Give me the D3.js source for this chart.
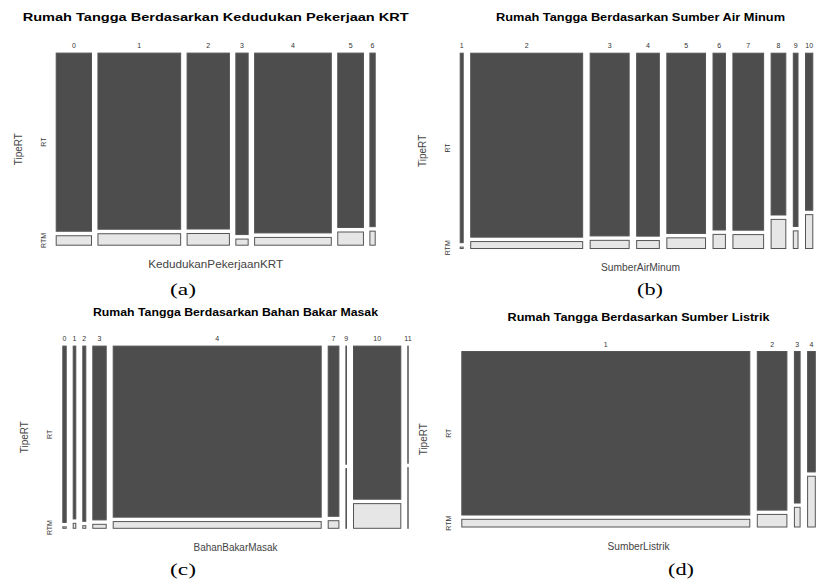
<!DOCTYPE html>
<html>
<head>
<meta charset="utf-8">
<script src="https://cdn.jsdelivr.net/npm/d3@7"></script>
<style>
	body { margin: 0; background: #fff; }
	svg { display: block; }
</style>
</head>
<body>
<div id="chart"></div>
<script>
// jumlah rumah tangga per kategori (RT = bukan miskin, RTM = miskin)
const tipeRT = ["RT", "RTM"];

const kerjaKategori = ["0", "1", "2", "3", "4", "5", "6"];
const kerjaRT  = [343, 782, 404, 128, 741, 247, 58];
const kerjaRTM = [20, 55, 29, 5, 36, 20, 5];

const airKategori = ["1", "2", "3", "4", "5", "6", "7", "8", "9", "10", "11"];
const airRT  = [79, 2167, 762, 452, 746, 247, 585, 265, 103, 136, 24];
const airRTM = [1, 93, 38, 22, 48, 21, 49, 49, 11, 30, 6];

const bahanKategori = ["0", "1", "2", "3", "4", "7", "9", "10", "11"];
const bahanRT  = [217, 174, 196, 700, 10001, 557, 53, 2070, 46];
const bahanRTM = [3, 6, 4, 20, 449, 28, 27, 345, 24];

const listrikKategori = ["1", "2", "3", "4"];
const listrikRT  = [2745, 282, 59, 61];
const listrikRTM = [145, 24, 8, 26];

let Mosaic = {
	constant: {
		width: 817,
		height: 583,
		colorRT: "#4D4D4D",
		colorRTM: "#E6E6E6",
		colorBorder: "#555",
		colorLabel: "#333",
		colorAxis: "#444",
		font: "'Liberation Sans', Arial, sans-serif",
		fontSerif: "'Liberation Serif', 'Times New Roman', serif"
	},
	panels: [
		{
			judul: "Rumah Tangga Berdasarkan Kedudukan Pekerjaan KRT", xLabel: "KedudukanPekerjaanKRT", caption: "(a)",
			kategori: kerjaKategori, rt: kerjaRT, rtm: kerjaRTM,
			box: {x0: 55.7, x1: 375.7, y0: 52.6, y1: 245.7}, gapX: 5.45, gapY: 3.5,
			titleY: 20.5, titleW: 386, xLabelW: 135, capX: 183, capY: 295
		},
		{
			judul: "Rumah Tangga Berdasarkan Sumber Air Minum", xLabel: "SumberAirMinum", caption: "(b)",
			kategori: airKategori, rt: airRT, rtm: airRTM,
			box: {x0: 459.7, x1: 821.3, y0: 52.7, y1: 249}, gapX: 6.5, gapY: 3.4,
			titleY: 21, titleW: 289, xLabelW: 79, capX: 650, capY: 295
		},
		{
			judul: "Rumah Tangga Berdasarkan Bahan Bakar Masak", xLabel: "BahanBakarMasak", caption: "(c)",
			kategori: bahanKategori, rt: bahanRT, rtm: bahanRTM,
			box: {x0: 62.3, x1: 408.7, y0: 345.6, y1: 528.8}, gapX: 6, gapY: 3.4,
			titleY: 316.3, titleW: 285, xLabelW: 84, capX: 183, capY: 575
		},
		{
			judul: "Rumah Tangga Berdasarkan Sumber Listrik", xLabel: "SumberListrik", caption: "(d)",
			kategori: listrikKategori, rt: listrikRT, rtm: listrikRTM,
			box: {x0: 461.3, x1: 815.8, y0: 351, y1: 527.5}, gapX: 6.5, gapY: 3.3,
			titleY: 321.3, titleW: 262, xLabelW: 62, capX: 681, capY: 575
		}
	],
	svg: null,
	init: (strSelector) => {
		let c = Mosaic.constant;
		Mosaic.svg = d3.select(strSelector)
			.append("svg")
			.attr("width", c.width)
			.attr("height", c.height)
		;
		Mosaic.svg.append("rect")
			.attr("width", c.width)
			.attr("height", c.height)
			.attr("fill", "#fff")
		;
		Mosaic.panels.forEach((p) => Mosaic.draw(p));
	},
	draw: (p) => {
		let c = Mosaic.constant;
		let b = p.box;
		let n = p.kategori.length;
		let g = Mosaic.svg.append("g");

		let cells = p.kategori.map((k, i) => ({
			kategori: k,
			rt: p.rt[i],
			rtm: p.rtm[i],
			jumlah: p.rt[i] + p.rtm[i]
		}));
		let total = d3.sum(cells, (d) => d.jumlah);

		/* lebar kolom sebanding jumlah, tinggi sel sebanding proporsi */
		let x = d3.scaleLinear()
			.domain([0, total])
			.range([0, b.x1 - b.x0 - p.gapX * (n - 1)])
		;
		let y = d3.scaleLinear()
			.domain([0, 1])
			.range([b.y0, b.y1 - p.gapY])
		;
		let cum = 0;
		cells.forEach((d, i) => {
			d.x = b.x0 + x(cum) + i * p.gapX;
			d.w = x(d.jumlah);
			d.share = d.rt / d.jumlah;
			cum += d.jumlah;
		});

		let col = g.selectAll("g.kolom")
			.data(cells)
			.enter().append("g")
			.attr("class", "kolom")
		;
		col.append("rect")
			.attr("x", (d) => d.x + 0.5)
			.attr("y", y(0) + 0.5)
			.attr("width", (d) => Math.max(d.w - 1, 0.01))
			.attr("height", (d) => y(d.share) - y(0) - 1)
			.attr("fill", c.colorRT)
			.attr("stroke", c.colorBorder)
			.attr("stroke-width", 1)
		;
		col.append("rect")
			.attr("x", (d) => d.x + 0.5)
			.attr("y", (d) => y(d.share) + p.gapY + 0.5)
			.attr("width", (d) => Math.max(d.w - 1, 0.01))
			.attr("height", (d) => Math.max(y(1) - y(d.share) - 1, 0.01))
			.attr("fill", c.colorRTM)
			.attr("stroke", c.colorBorder)
			.attr("stroke-width", 1)
		;
		col.append("text")
			.attr("x", (d) => d.x + d.w / 2)
			.attr("y", b.y0 - 4.3)
			.attr("text-anchor", "middle")
			.attr("font-family", c.font)
			.attr("font-size", 7)
			.attr("fill", c.colorLabel)
			.text((d) => d.kategori)
		;

		/* label tipe di sisi kiri, di tengah sel kolom pertama */
		let first = cells[0];
		let yMid = [(y(0) + y(first.share)) / 2, (y(first.share) + p.gapY + b.y1) / 2];
		g.selectAll("text.tipe")
			.data(tipeRT)
			.enter().append("text")
			.attr("class", "tipe")
			.attr("transform", (d, i) => `translate(${b.x0 - 10},${yMid[i]}) rotate(-90)`)
			.attr("text-anchor", "middle")
			.attr("font-family", c.font)
			.attr("font-size", 7)
			.attr("fill", c.colorLabel)
			.text((d) => d)
		;

		let xMid = (b.x0 + b.x1) / 2;
		g.append("text")
			.attr("transform", `translate(${b.x0 - 34},${(b.y0 + b.y1) / 2}) rotate(-90)`)
			.attr("text-anchor", "middle")
			.attr("font-family", c.font)
			.attr("font-size", 10)
			.attr("fill", c.colorAxis)
			.text("TipeRT")
		;
		g.append("text")
			.attr("x", xMid)
			.attr("y", b.y1 + 22.3)
			.attr("text-anchor", "middle")
			.attr("font-family", c.font)
			.attr("font-size", 10)
			.attr("fill", c.colorAxis)
			.attr("textLength", p.xLabelW)
			.attr("lengthAdjust", "spacingAndGlyphs")
			.text(p.xLabel)
		;
		g.append("text")
			.attr("x", xMid)
			.attr("y", p.titleY)
			.attr("text-anchor", "middle")
			.attr("font-family", c.font)
			.attr("font-weight", "bold")
			.attr("font-size", 11)
			.attr("fill", "#000")
			.attr("textLength", p.titleW)
			.attr("lengthAdjust", "spacingAndGlyphs")
			.text(p.judul)
		;
		g.append("text")
			.attr("x", p.capX)
			.attr("y", p.capY)
			.attr("text-anchor", "middle")
			.attr("font-family", c.fontSerif)
			.attr("font-size", 17.6)
			.attr("fill", "#000")
			.attr("textLength", 26)
			.attr("lengthAdjust", "spacingAndGlyphs")
			.text(p.caption)
		;
	}
};

Mosaic.init("#chart");
</script>
</body>
</html>
